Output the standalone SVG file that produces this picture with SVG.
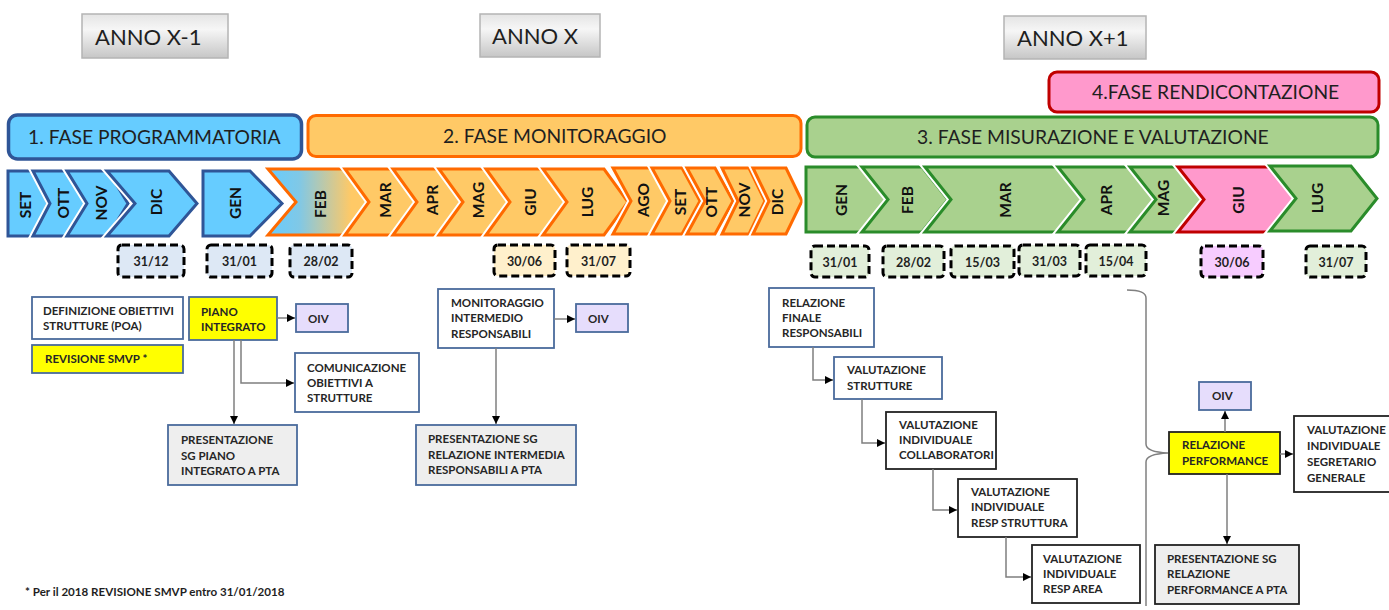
<svg xmlns="http://www.w3.org/2000/svg" width="1389" height="610" viewBox="0 0 1389 610">
<defs>
<linearGradient id="annoG" x1="0" y1="0" x2="0" y2="1">
<stop offset="0" stop-color="#e4e4e4"/><stop offset="0.35" stop-color="#f6f6f6"/><stop offset="1" stop-color="#c6c6c6"/>
</linearGradient>
<linearGradient id="febG" x1="0" y1="0" x2="1" y2="0">
<stop offset="0" stop-color="#66ccff"/><stop offset="0.3" stop-color="#80c8e6"/><stop offset="0.8" stop-color="#ffc966"/>
</linearGradient>
<marker id="ah" viewBox="0 0 10 10" refX="10" refY="5" markerWidth="8" markerHeight="8" markerUnits="userSpaceOnUse" orient="auto">
<path d="M0,0 L10,5 L0,10 z" fill="#000"/>
</marker>
<style>
text{font-family:Lato,"Liberation Sans",sans-serif;fill:#1f1f1f}
.anno rect{fill:url(#annoG);stroke:#b4b4b4;stroke-width:1.5}
.anno text{font-size:22px}
.ph text{font-size:19.3px}
.gap{fill:none;stroke:#fff;stroke-width:7;stroke-linejoin:miter}
.cb{fill:#66ccff;stroke:#2f5597;stroke-width:3;stroke-linejoin:miter}
.co{fill:#ffc966;stroke:#ff6a00;stroke-width:3;stroke-linejoin:miter}
.cg{fill:#a9d18e;stroke:#2a8c2a;stroke-width:3;stroke-linejoin:miter}
.cp{fill:#ff99cc;stroke:#c00000;stroke-width:3;stroke-linejoin:miter}
.mo{font-size:15.5px;font-weight:700;text-anchor:middle;fill:#111}
.dt rect{stroke:#000;stroke-width:3;stroke-dasharray:8 4;rx:4}
.dt text{font-size:12.5px;font-weight:700;text-anchor:middle}
.db{fill:#dde8f5}.do{fill:#fff0cc}.dg{fill:#e2efda}.dp{fill:#f7ccff}
.n rect{stroke-width:1.8}
.n text{font-size:11.5px;font-weight:700;fill:#262626}
.bl{stroke:#4a6b9c}.bk{stroke:#222}
.w{fill:#fff}.y{fill:#ffff00}.l{fill:#e6ddfc}.g{fill:#eeeeee}
.c path{fill:none;stroke:#7f7f7f;stroke-width:1.5;marker-end:url(#ah)}
</style>
</defs>
<rect width="1389" height="610" fill="#fff"/>

<g id="anno-x-1" class="anno"><rect x="82" y="14" width="146" height="44"/><text x="95" y="45">ANNO X-1</text></g>
<g id="anno-x" class="anno"><rect x="480" y="14" width="120" height="43"/><text x="492" y="44">ANNO X</text></g>
<g id="anno-x1" class="anno"><rect x="1004" y="16" width="142" height="43"/><text x="1017" y="46">ANNO X+1</text></g>

<g id="fase4" class="ph"><rect x="1049" y="72" width="330" height="40" rx="8" fill="#ff99cc" stroke="#c00000" stroke-width="3"/><text x="1092" y="99">4.FASE RENDICONTAZIONE</text></g>
<g id="fase1" class="ph"><rect x="8.5" y="115" width="293" height="44" rx="9" fill="#66ccff" stroke="#2f5597" stroke-width="3.5"/><text x="28" y="144">1. FASE PROGRAMMATORIA</text></g>
<g id="fase2" class="ph"><rect x="308" y="115.5" width="493" height="41" rx="8" fill="#ffc966" stroke="#ff6a00" stroke-width="3"/><text x="443" y="143">2. FASE MONITORAGGIO</text></g>
<g id="fase3" class="ph"><rect x="807" y="117" width="571" height="40" rx="8" fill="#a9d18e" stroke="#2a8c2a" stroke-width="3"/><text x="917" y="144">3. FASE MISURAZIONE E VALUTAZIONE</text></g>

<g id="mesi-x-1">
<polygon class="gap" points="8,171 33,171 48,203.5 33,236 8,236"/><polygon class="cb" points="8,171 33,171 48,203.5 33,236 8,236"/>
<polygon class="gap" points="33,171 71,171 88,203.5 71,236 33,236 50,203.5"/><polygon class="cb" points="33,171 71,171 88,203.5 71,236 33,236 50,203.5"/>
<polygon class="gap" points="67,171 108,171 128,203.5 108,236 67,236 87,203.5"/><polygon class="cb" points="67,171 108,171 128,203.5 108,236 67,236 87,203.5"/>
<polygon class="gap" points="107,171 169,171 197,203.5 169,236 107,236 135,203.5"/><polygon class="cb" points="107,171 169,171 197,203.5 169,236 107,236 135,203.5"/>
<text class="mo" transform="translate(25,205) rotate(-90)" dy="5.5">SET</text>
<text class="mo" transform="translate(63,203) rotate(-90)" dy="5.5">OTT</text>
<text class="mo" transform="translate(101,203) rotate(-90)" dy="5.5">NOV</text>
<text class="mo" transform="translate(156,202) rotate(-90)" dy="5.5">DIC</text>
</g>
<g id="mesi-x">
<polygon class="gap" points="203,171 250,171 282,203.5 250,236 203,236"/><polygon class="cb" points="203,171 250,171 282,203.5 250,236 203,236"/>
<polygon class="gap" points="268,169 344,169 372,202 344,235 268,235 296,202"/><polygon class="co" style="fill:url(#febG)" points="268,169 344,169 372,202 344,235 268,235 296,202"/>
<polygon class="gap" points="345,169 396,169 420,202 396,235 345,235 369,202"/><polygon class="co" points="345,169 396,169 420,202 396,235 345,235 369,202"/>
<polygon class="gap" points="393,169 443,169 467,202 443,235 393,235 417,202"/><polygon class="co" points="393,169 443,169 467,202 443,235 393,235 417,202"/>
<polygon class="gap" points="439,169 489,169 513,202 489,235 439,235 463,202"/><polygon class="co" points="439,169 489,169 513,202 489,235 439,235 463,202"/>
<polygon class="gap" points="486,169 543,169 567,202 543,235 486,235 510,202"/><polygon class="co" points="486,169 543,169 567,202 543,235 486,235 510,202"/>
<polygon class="gap" points="543,169 604,169 628,202 604,235 543,235 567,202"/><polygon class="co" points="543,169 604,169 628,202 604,235 543,235 567,202"/>
<polygon class="gap" points="613,168 652,168 670,201 652,234 613,234 631,201"/><polygon class="co" points="613,168 652,168 670,201 652,234 613,234 631,201"/>
<polygon class="gap" points="652,168 682,168 700,201 682,234 652,234 670,201"/><polygon class="co" points="652,168 682,168 700,201 682,234 652,234 670,201"/>
<polygon class="gap" points="687,168 715,168 733,201 715,234 687,234 705,201"/><polygon class="co" points="687,168 715,168 733,201 715,234 687,234 705,201"/>
<polygon class="gap" points="722,168 749,168 765,201 749,234 722,234 738,201"/><polygon class="co" points="722,168 749,168 765,201 749,234 722,234 738,201"/>
<polygon class="gap" points="753,168 786,168 802,201 786,234 753,234 769,201"/><polygon class="co" points="753,168 786,168 802,201 786,234 753,234 769,201"/>
<text class="mo" transform="translate(235,203) rotate(-90)" dy="5.5">GEN</text>
<text class="mo" transform="translate(320,204) rotate(-90)" dy="5.5">FEB</text>
<text class="mo" transform="translate(385,200) rotate(-90)" dy="5.5">MAR</text>
<text class="mo" transform="translate(432,200) rotate(-90)" dy="5.5">APR</text>
<text class="mo" transform="translate(478,200) rotate(-90)" dy="5.5">MAG</text>
<text class="mo" transform="translate(530,202) rotate(-90)" dy="5.5">GIU</text>
<text class="mo" transform="translate(587,202) rotate(-90)" dy="5.5">LUG</text>
<text class="mo" transform="translate(643,200) rotate(-90)" dy="5.5">AGO</text>
<text class="mo" transform="translate(680,202) rotate(-90)" dy="5.5">SET</text>
<text class="mo" transform="translate(711,202) rotate(-90)" dy="5.5">OTT</text>
<text class="mo" transform="translate(744,200) rotate(-90)" dy="5.5">NOV</text>
<text class="mo" transform="translate(777,202) rotate(-90)" dy="5.5">DIC</text>
</g>
<g id="mesi-x1">
<polygon class="gap" points="806,167 860,167 888,199.5 860,232 806,232"/><polygon class="cg" points="806,167 860,167 888,199.5 860,232 806,232"/>
<polygon class="gap" points="862,167 922,167 948,199.5 922,232 862,232 888,199.5"/><polygon class="cg" points="862,167 922,167 948,199.5 922,232 862,232 888,199.5"/>
<polygon class="gap" points="925,167 1057,167 1083,199.5 1057,232 925,232 951,199.5"/><polygon class="cg" points="925,167 1057,167 1083,199.5 1057,232 925,232 951,199.5"/>
<polygon class="gap" points="1058,167 1129,167 1155,199.5 1129,232 1058,232 1084,199.5"/><polygon class="cg" points="1058,167 1129,167 1155,199.5 1129,232 1058,232 1084,199.5"/>
<polygon class="gap" points="1130,167 1177,167 1203,199.5 1177,232 1130,232 1156,199.5"/><polygon class="cg" points="1130,167 1177,167 1203,199.5 1177,232 1130,232 1156,199.5"/>
<polygon class="gap" points="1178,167 1270,167 1296,199.5 1270,232 1178,232 1204,199.5"/><polygon class="cp" points="1178,167 1270,167 1296,199.5 1270,232 1178,232 1204,199.5"/>
<polygon class="gap" points="1270,166 1351,166 1377,198.5 1351,231 1270,231 1296,198.5"/><polygon class="cg" points="1270,166 1351,166 1377,198.5 1351,231 1270,231 1296,198.5"/>
<text class="mo" transform="translate(841,200) rotate(-90)" dy="5.5">GEN</text>
<text class="mo" transform="translate(907,200) rotate(-90)" dy="5.5">FEB</text>
<text class="mo" transform="translate(1005,200) rotate(-90)" dy="5.5">MAR</text>
<text class="mo" transform="translate(1106,200) rotate(-90)" dy="5.5">APR</text>
<text class="mo" transform="translate(1163,198) rotate(-90)" dy="5.5">MAG</text>
<text class="mo" transform="translate(1238,200) rotate(-90)" dy="5.5">GIU</text>
<text class="mo" transform="translate(1317,198) rotate(-90)" dy="5.5">LUG</text>
</g>

<g id="date-3112" class="dt"><rect class="db" x="118" y="245" width="66" height="32"/><text x="151" y="266">31/12</text></g>
<g id="date-3101a" class="dt"><rect class="db" x="207" y="245" width="65" height="32"/><text x="239.5" y="266">31/01</text></g>
<g id="date-2802a" class="dt"><rect class="db" x="290" y="245" width="62" height="32"/><text x="321" y="266">28/02</text></g>
<g id="date-3006a" class="dt"><rect class="do" x="494" y="245" width="61" height="31"/><text x="524.5" y="266">30/06</text></g>
<g id="date-3107a" class="dt"><rect class="do" x="567" y="245" width="63" height="31"/><text x="598.5" y="266">31/07</text></g>
<g id="date-3101b" class="dt"><rect class="dg" x="811" y="246" width="58" height="31"/><text x="840" y="267">31/01</text></g>
<g id="date-2802b" class="dt"><rect class="dg" x="883" y="246" width="61" height="31"/><text x="913.5" y="267">28/02</text></g>
<g id="date-1503" class="dt"><rect class="dg" x="951" y="246" width="63" height="31"/><text x="982.5" y="267">15/03</text></g>
<g id="date-3103" class="dt"><rect class="dg" x="1019" y="245" width="61" height="31"/><text x="1049.5" y="266">31/03</text></g>
<g id="date-1504" class="dt"><rect class="dg" x="1086" y="245" width="60" height="31"/><text x="1116" y="266">15/04</text></g>
<g id="date-3006b" class="dt"><rect class="dp" x="1201" y="246" width="62" height="31"/><text x="1232" y="267">30/06</text></g>
<g id="date-3107b" class="dt"><rect class="dg" x="1306" y="246" width="60" height="31"/><text x="1336" y="267">31/07</text></g>

<g id="definizione" class="n"><rect class="w bl" x="32" y="297" width="151" height="42"/><text x="43" y="315">DEFINIZIONE OBIETTIVI</text><text x="43" y="330">STRUTTURE (POA)</text></g>
<g id="revisione" class="n"><rect class="y bl" x="32" y="345" width="151" height="28"/><text x="45" y="363">REVISIONE SMVP *</text></g>
<g id="piano" class="n"><rect class="y bl" x="189" y="297" width="88" height="43"/><text x="201" y="316">PIANO</text><text x="201" y="331">INTEGRATO</text></g>
<g id="oiv1" class="n"><rect class="l bl" x="296" y="304" width="52" height="28"/><text x="308" y="323">OIV</text></g>
<g id="comunicazione" class="n"><rect class="w bl" x="295" y="353" width="124" height="59"/><text x="307" y="372">COMUNICAZIONE</text><text x="307" y="387">OBIETTIVI A</text><text x="307" y="402">STRUTTURE</text></g>
<g id="presentazione1" class="n"><rect class="g bl" x="168" y="425" width="129" height="60"/><text x="181" y="444">PRESENTAZIONE</text><text x="181" y="460">SG PIANO</text><text x="181" y="475">INTEGRATO A PTA</text></g>

<g id="monitoraggio" class="n"><rect class="w bl" x="438" y="289" width="116" height="59"/><text x="451" y="307">MONITORAGGIO</text><text x="451" y="322">INTERMEDIO</text><text x="451" y="338">RESPONSABILI</text></g>
<g id="oiv2" class="n"><rect class="l bl" x="576" y="304" width="52" height="28"/><text x="588" y="323">OIV</text></g>
<g id="presentazione2" class="n"><rect class="g bl" x="416" y="425" width="160" height="60"/><text x="428" y="443">PRESENTAZIONE SG</text><text x="428" y="459">RELAZIONE INTERMEDIA</text><text x="428" y="474">RESPONSABILI A PTA</text></g>

<g id="relazione-finale" class="n"><rect class="w bl" x="769" y="288" width="105" height="59"/><text x="782" y="307">RELAZIONE</text><text x="782" y="322">FINALE</text><text x="782" y="337">RESPONSABILI</text></g>
<g id="val-strutture" class="n"><rect class="w bl" x="834" y="357" width="108" height="42"/><text x="847" y="374">VALUTAZIONE</text><text x="847" y="390">STRUTTURE</text></g>
<g id="val-collab" class="n"><rect class="w bk" x="886" y="412" width="110" height="57"/><text x="899" y="429">VALUTAZIONE</text><text x="899" y="444">INDIVIDUALE</text><text x="899" y="459">COLLABORATORI</text></g>
<g id="val-resp-str" class="n"><rect class="w bk" x="958" y="479" width="119" height="58"/><text x="971" y="496">VALUTAZIONE</text><text x="971" y="511">INDIVIDUALE</text><text x="971" y="527">RESP STRUTTURA</text></g>
<g id="val-resp-area" class="n"><rect class="w bk" x="1032" y="545" width="108" height="58"/><text x="1043" y="563">VALUTAZIONE</text><text x="1043" y="578">INDIVIDUALE</text><text x="1043" y="593">RESP AREA</text></g>

<g id="oiv3" class="n"><rect class="l bl" x="1199" y="382" width="52" height="28"/><text x="1212" y="400">OIV</text></g>
<g id="relazione-perf" class="n"><rect class="y bk" x="1169" y="432" width="111" height="42"/><text x="1182" y="449">RELAZIONE</text><text x="1182" y="465">PERFORMANCE</text></g>
<g id="val-sg" class="n"><rect class="w bk" x="1294" y="416" width="97" height="76"/><text x="1307" y="434">VALUTAZIONE</text><text x="1307" y="450">INDIVIDUALE</text><text x="1307" y="466">SEGRETARIO</text><text x="1307" y="482">GENERALE</text></g>
<g id="presentazione3" class="n"><rect class="g bk" x="1155" y="545" width="144" height="59"/><text x="1167" y="563">PRESENTAZIONE SG</text><text x="1167" y="578">RELAZIONE</text><text x="1167" y="594">PERFORMANCE A PTA</text></g>

<g id="connectors" class="c">
<path d="M277,318 H295"/>
<path d="M241,340 V383 H294"/>
<path d="M234,340 V424"/>
<path d="M554,319 H575"/>
<path d="M496,348 V424"/>
<path d="M813,347 V380 H833"/>
<path d="M862,399 V443 H885"/>
<path d="M933,469 V510 H957"/>
<path d="M1006,537 V577 H1031"/>
<path d="M1225,432 V411"/>
<path d="M1280,454 H1293"/>
<path d="M1227,474 V544"/>
</g>
<path id="brace" d="M1127,290 Q1146,290 1146,298 V444 Q1146,452 1168,453 Q1146,454 1146,462 V606" fill="none" stroke="#808080" stroke-width="1.5"/>

<text x="25" y="596" font-size="11.6px" font-weight="700">* Per il 2018 REVISIONE SMVP entro 31/01/2018</text>
</svg>
